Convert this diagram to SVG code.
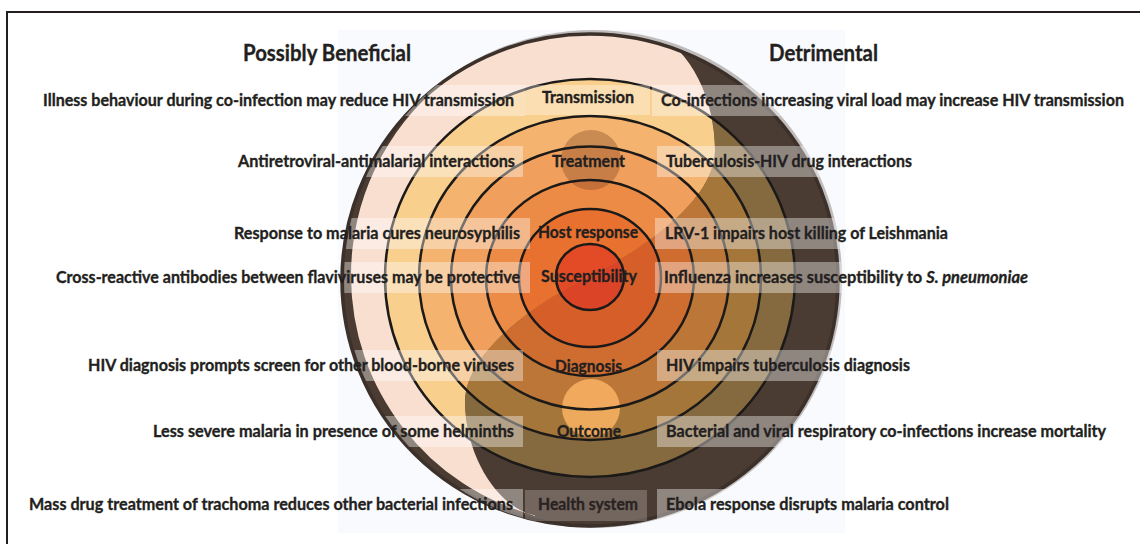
<svg xmlns="http://www.w3.org/2000/svg" width="1140" height="544" viewBox="0 0 1140 544">
<defs>
<style>
.lbl{font-family:Lato,"Open Sans","Liberation Sans",sans-serif;font-weight:700;font-size:17.5px;fill:#231f20;stroke:#231f20;stroke-width:0.35px}
.ttl{font-size:22px}
.box{fill:#ffffff;fill-opacity:0.38}
.ring{fill:none;stroke:#1c1a18;stroke-width:2.5}
</style>
<clipPath id="disc"><ellipse cx="590" cy="280" rx="248" ry="246"/></clipPath>
<clipPath id="rimDisc"><circle cx="593" cy="279" r="249"/></clipPath>
<clipPath id="lightSide"><path d="M651,33 C690,45 715,100 715,150 C715,200 644,249 590,276 C536,303 465,352 465,402 C465,452 495,508 537,516 L300,560 L300,0 L651,0 Z"/></clipPath>
<clipPath id="darkSide"><path d="M651,33 C690,45 715,100 715,150 C715,200 644,249 590,276 C536,303 465,352 465,402 C465,452 495,508 537,516 L537,560 L900,560 L900,0 L651,0 Z"/></clipPath>
</defs>

<g id="background">
<rect x="7" y="12" width="1145" height="545" fill="#ffffff" stroke="#231f20" stroke-width="2"/>
<rect x="338" y="30" width="507" height="503" fill="#f9fafd"/>
</g>

<g id="target">
<circle cx="593" cy="279" r="249" fill="#6a5e57" fill-opacity="0.4"/>
<ellipse cx="590" cy="280" rx="248" ry="246" fill="#4b3c33"/>
<path d="M651,33 C690,45 715,100 715,150 C715,200 644,249 590,276 C536,303 465,352 465,402 C465,452 495,508 537,516 A248,248 0 0 1 351,276 A248,248 0 0 1 651,33 Z" fill="#f9dfd0" clip-path="url(#disc)"/>
<g id="light-bands" clip-path="url(#lightSide)">
<ellipse cx="590" cy="278" rx="205" ry="199" fill="#f9cf8e"/>
<ellipse cx="590" cy="278" rx="171" ry="162" fill="#f4b46f"/>
<ellipse cx="590" cy="278" rx="139" ry="131.5" fill="#f0a05c"/>
<ellipse cx="590" cy="278" rx="104" ry="98" fill="#ec8b46"/>
<ellipse cx="590" cy="278" rx="71" ry="69" fill="#e8712f"/>
<ellipse cx="590" cy="277" rx="34" ry="33" fill="#e34b27"/>
</g>
<g id="dark-bands" clip-path="url(#darkSide)">
<ellipse cx="590" cy="278" rx="205" ry="199" fill="#85693f"/>
<ellipse cx="590" cy="278" rx="171" ry="162" fill="#a4763a"/>
<ellipse cx="590" cy="278" rx="139" ry="131.5" fill="#bb7638"/>
<ellipse cx="590" cy="278" rx="104" ry="98" fill="#cf6c30"/>
<ellipse cx="590" cy="278" rx="71" ry="69" fill="#d65f29"/>
<ellipse cx="590" cy="277" rx="34" ry="33" fill="#db4427"/>
</g>
<circle cx="591" cy="160" r="30" fill="#7a4020" fill-opacity="0.35"/>
<circle cx="591" cy="408" r="29" fill="#ffb866" fill-opacity="0.8"/>
<g id="ring-lines">
<ellipse class="ring" cx="590" cy="278" rx="205" ry="199"/>
<ellipse class="ring" cx="590" cy="278" rx="171" ry="162"/>
<ellipse class="ring" cx="590" cy="278" rx="139" ry="131.5"/>
<ellipse class="ring" cx="590" cy="278" rx="104" ry="98"/>
<ellipse class="ring" cx="590" cy="278" rx="71" ry="69"/>
<ellipse class="ring" cx="590" cy="277" rx="34" ry="33"/>
</g>
<ellipse cx="590" cy="280" rx="248" ry="246" fill="none" stroke="#3c302a" stroke-width="3.5"/>
</g>

<g id="boxes" clip-path="url(#rimDisc)">
<rect class="box" x="37" y="85" width="488" height="31"/>
<rect class="box" x="232" y="146" width="291" height="31"/>
<rect class="box" x="228" y="218" width="302" height="31"/>
<rect class="box" x="50" y="262" width="480" height="31"/>
<rect class="box" x="82" y="350" width="441" height="31"/>
<rect class="box" x="147" y="416" width="376" height="31"/>
<rect class="box" x="23" y="489" width="500" height="31"/>
<rect class="box" x="652" y="85" width="478" height="31"/>
<rect class="box" x="657" y="146" width="261" height="31"/>
<rect class="box" x="655" y="218" width="299" height="31"/>
<rect class="box" x="655" y="262" width="379" height="31"/>
<rect class="box" x="657" y="350" width="259" height="31"/>
<rect class="box" x="657" y="416" width="455" height="31"/>
<rect class="box" x="657" y="489" width="298" height="31"/>
<rect class="box" x="525" y="85" width="125" height="30" style="fill-opacity:0.32"/>
<rect class="box" x="525" y="490" width="122" height="31" style="fill-opacity:0.22"/>
</g>

<g id="titles">
<text class="lbl ttl" x="243" y="61" textLength="168" lengthAdjust="spacingAndGlyphs">Possibly Beneficial</text>
<text class="lbl ttl" x="769" y="61" textLength="109" lengthAdjust="spacingAndGlyphs">Detrimental</text>
</g>

<g id="beneficial">
<text class="lbl" x="43" y="106" textLength="471" lengthAdjust="spacingAndGlyphs">Illness behaviour during co-infection may reduce HIV transmission</text>
<text class="lbl" x="238" y="167" textLength="277" lengthAdjust="spacingAndGlyphs">Antiretroviral-antimalarial interactions</text>
<text class="lbl" x="234" y="239" textLength="286" lengthAdjust="spacingAndGlyphs">Response to malaria cures neurosyphilis</text>
<text class="lbl" x="56" y="283" textLength="464" lengthAdjust="spacingAndGlyphs">Cross-reactive antibodies between flaviviruses may be protective</text>
<text class="lbl" x="88" y="371" textLength="426" lengthAdjust="spacingAndGlyphs">HIV diagnosis prompts screen for other blood-borne viruses</text>
<text class="lbl" x="153" y="437" textLength="361" lengthAdjust="spacingAndGlyphs">Less severe malaria in presence of some helminths</text>
<text class="lbl" x="29" y="510" textLength="484" lengthAdjust="spacingAndGlyphs">Mass drug treatment of trachoma reduces other bacterial infections</text>
</g>

<g id="levels">
<text class="lbl" x="542" y="103" textLength="92" lengthAdjust="spacingAndGlyphs">Transmission</text>
<text class="lbl" x="552" y="167" textLength="73" lengthAdjust="spacingAndGlyphs">Treatment</text>
<text class="lbl" x="538" y="238" textLength="100" lengthAdjust="spacingAndGlyphs">Host response</text>
<text class="lbl" x="541" y="282" textLength="96" lengthAdjust="spacingAndGlyphs">Susceptibility</text>
<text class="lbl" x="555" y="372" textLength="67" lengthAdjust="spacingAndGlyphs">Diagnosis</text>
<text class="lbl" x="557" y="437" textLength="64" lengthAdjust="spacingAndGlyphs">Outcome</text>
<text class="lbl" x="538" y="510" textLength="100" lengthAdjust="spacingAndGlyphs" style="fill:#2a2220;stroke:#2a2220">Health system</text>
</g>

<g id="detrimental">
<text class="lbl" x="661" y="106" textLength="463" lengthAdjust="spacingAndGlyphs">Co-infections increasing viral load may increase HIV transmission</text>
<text class="lbl" x="666" y="167" textLength="246" lengthAdjust="spacingAndGlyphs">Tuberculosis-HIV drug interactions</text>
<text class="lbl" x="665" y="239" textLength="283" lengthAdjust="spacingAndGlyphs">LRV-1 impairs host killing of Leishmania</text>
<text class="lbl" x="664" y="283" textLength="364" lengthAdjust="spacingAndGlyphs">Influenza increases susceptibility to <tspan font-style="italic">S. pneumoniae</tspan></text>
<text class="lbl" x="666" y="371" textLength="244" lengthAdjust="spacingAndGlyphs">HIV impairs tuberculosis diagnosis</text>
<text class="lbl" x="666" y="437" textLength="440" lengthAdjust="spacingAndGlyphs">Bacterial and viral respiratory co-infections increase mortality</text>
<text class="lbl" x="666" y="510" textLength="283" lengthAdjust="spacingAndGlyphs">Ebola response disrupts malaria control</text>
</g>
</svg>
